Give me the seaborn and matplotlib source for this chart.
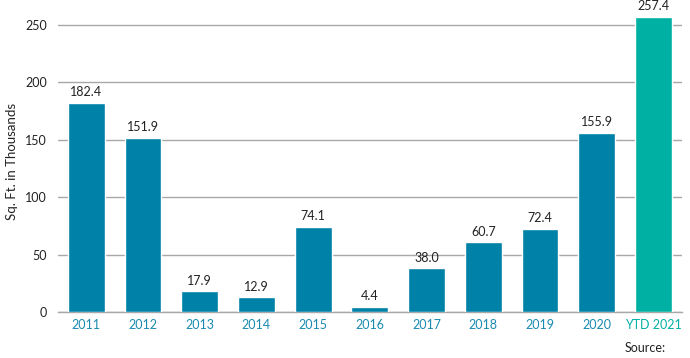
import matplotlib
matplotlib.use("Agg")
import matplotlib.pyplot as plt
import seaborn as sns
import pandas as pd

categories = ["2011", "2012", "2013", "2014", "2015", "2016", "2017", "2018", "2019", "2020", "YTD 2021"]
values = [182.4, 151.9, 17.9, 12.9, 74.1, 4.4, 38.0, 60.7, 72.4, 155.9, 257.4]
yticks = [0, 50, 100, 150, 200, 250]

sns.set_theme(style="white")
plt.rcParams["font.family"] = ["Lato", "DejaVu Sans"]

blue = "#0081a7"
teal = "#00b0a3"
colors = [blue] * 10 + [teal]

df = pd.DataFrame({"cat": categories, "val": values})

fig = plt.figure(figsize=(6.9, 3.58), dpi=100)
ax = fig.add_axes([0.084, 0.1285, 0.904, 0.84])

sns.barplot(data=df, x="cat", y="val", hue="cat", palette=colors, legend=False,
            width=0.65, ax=ax, saturation=1, zorder=3)

ax.set_ylim(0, 262)
ax.set_xlim(-0.5, len(categories) - 0.5)
ax.set_yticks(yticks)
ax.yaxis.grid(True, color="#a8a8a8", linewidth=1.0, zorder=0)
ax.set_axisbelow(True)
for s in ["top", "right", "left"]:
    ax.spines[s].set_visible(False)
ax.spines["bottom"].set_color("#a8a8a8")
ax.spines["bottom"].set_linewidth(1.0)
ax.tick_params(axis="both", length=0)
ax.tick_params(axis="y", labelsize=9, colors="#222222", pad=8)
ax.tick_params(axis="x", labelsize=9, pad=5)
for lbl, c in zip(ax.get_xticklabels(), colors):
    lbl.set_color("#1a8ab0" if c == blue else teal)

ax.set_xlabel("")
ax.set_ylabel("Sq. Ft. in Thousands", fontsize=9.5, color="#222222")
ax.yaxis.set_label_coords(-0.064, 0.5)

for i, v in enumerate(values):
    ax.text(i, v + 4, f"{v:.1f}", ha="center", va="bottom", fontsize=9, color="#222222")

fig.text(0.965, 0.028, "Source:", ha="right", va="center", fontsize=9, color="#222222")

fig.savefig("out.png", dpi=100)
